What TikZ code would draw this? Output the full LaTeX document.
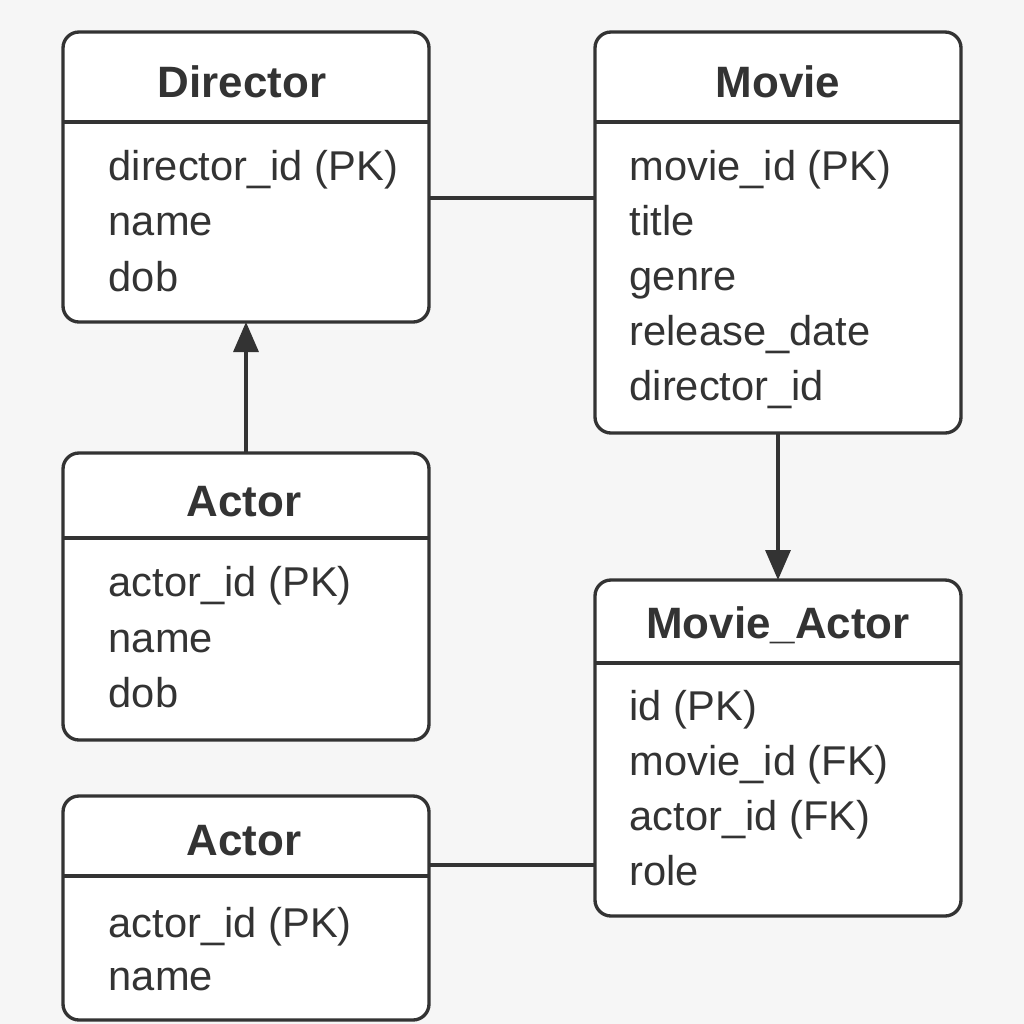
\documentclass[tikz,border=0pt]{standalone}
\usepackage{fontspec}
\setmainfont{Liberation Sans}
\usepackage{xcolor}
\usetikzlibrary{arrows.meta}
\definecolor{inkgray}{HTML}{333333}
\definecolor{paper}{HTML}{F6F6F6}

\begin{document}
\begin{tikzpicture}[
	entity/.style={draw=inkgray, fill=white, line width=0.95pt, rounded corners=0.16cm,
		minimum width=3.66cm, inner sep=0pt, outer sep=0pt},
	divider/.style={draw=inkgray, line width=0.95pt},
	title/.style={anchor=base, inner sep=0pt, text=inkgray, font=\bfseries\fontsize{12.5}{14}\selectfont},
	attr/.style={anchor=base west, inner sep=0pt, text=inkgray, font=\fontsize{11.85}{14}\selectfont},
	link/.style={draw=inkgray, line width=0.95pt},
	head/.style={-{Triangle[length=0.30cm, width=0.25cm]}}
	]
	%background and page size
	\fill[paper] (0,0) rectangle (10.24,-10.24);

	%entity boxes
	\node[entity, minimum height=2.90cm] (director) at (2.46,-1.77) {};
	\node[entity, minimum height=4.01cm] (movie) at (7.78,-2.325) {};
	\node[entity, minimum height=2.87cm] (actor) at (2.46,-5.965) {};
	\node[entity, minimum height=3.36cm] (movieactor) at (7.78,-7.48) {};
	\node[entity, minimum height=2.24cm] (actortwo) at (2.46,-9.08) {};
	%
	% header lines
	\draw[divider] ([yshift=-0.90cm]director.north west) -- ([yshift=-0.90cm]director.north east);
	\draw[divider] ([yshift=-0.90cm]movie.north west) -- ([yshift=-0.90cm]movie.north east);
	\draw[divider] ([yshift=-0.85cm]actor.north west) -- ([yshift=-0.85cm]actor.north east);
	\draw[divider] ([yshift=-0.83cm]movieactor.north west) -- ([yshift=-0.83cm]movieactor.north east);
	\draw[divider] ([yshift=-0.80cm]actortwo.north west) -- ([yshift=-0.80cm]actortwo.north east);
	%
	% Titles
	\node[title] (director-title) at (2.42,-0.97) {Director};
	\node[title] (movie-title) at (7.78,-0.97) {Movie};
	\node[title] (actor-title) at (2.44,-5.16) {Actor};
	\node[title] (movieactor-title) at (7.78,-6.38) {Movie\_Actor};
	\node[title] (actortwo-title) at (2.44,-8.55) {Actor};
	%
	% Attributes
	\foreach \txt [count=\i] in {director\_id (PK), name, dob}
		\node[attr] (director-\i) at (1.08,{-1.245-0.555*\i}) {\txt};
	\foreach \txt [count=\i] in {movie\_id (PK), title, genre, release\_date, director\_id}
		\node[attr] (movie-\i) at (6.29,{-1.255-0.55*\i}) {\txt};
	\foreach \txt [count=\i] in {actor\_id (PK), name, dob}
		\node[attr] (actor-\i) at (1.08,{-5.41-0.555*\i}) {\txt};
	\foreach \txt [count=\i] in {id (PK), movie\_id (FK), actor\_id (FK), role}
		\node[attr] (movieactor-\i) at (6.29,{-6.65-0.55*\i}) {\txt};
	\foreach \txt [count=\i] in {actor\_id (PK), name}
		\node[attr] (actortwo-\i) at (1.08,{-8.84-0.53*\i}) {\txt};
	%
	% Connectors
	\draw[link] ([yshift=-0.21cm]director.east) -- ([yshift=-0.21cm]director.east -| movie.west); % Director -- Movie
	\draw[link, head] (actor.north) -- (director.south); % Actor -> Director
	\draw[link, head] (movie.south) -- (movieactor.north); % Movie -> Movie_Actor
	\draw[link] ([yshift=0.43cm]actortwo.east) -- ([yshift=0.43cm]actortwo.east -| movieactor.west); % Actor -- Movie_Actor
\end{tikzpicture}
\end{document}
